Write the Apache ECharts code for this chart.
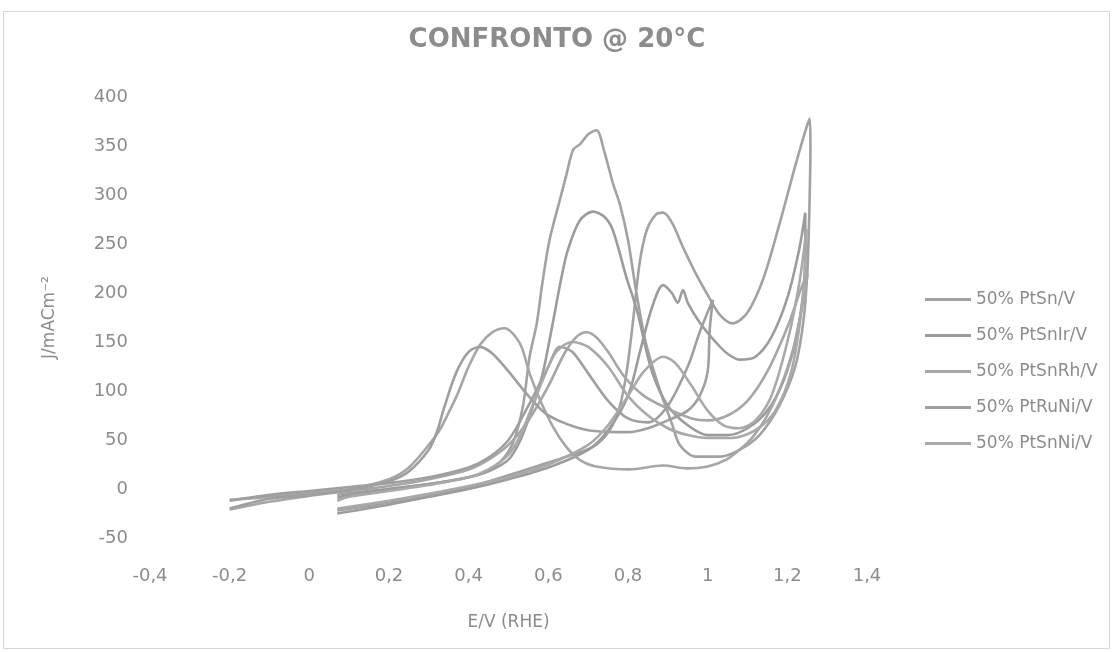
<!DOCTYPE html>
<html>
<head>
<meta charset="utf-8">
<script src="https://cdn.jsdelivr.net/npm/echarts@6/dist/echarts.min.js"></script>
<style>
  html, body { margin: 0; padding: 0; background: #ffffff; }
  #chart { width: 1114px; height: 652px; }
</style>
</head>
<body>
<div id="chart"></div>
<script>
// Cyclic voltammograms at 20 °C: each series is one closed scan, [E (V vs RHE), J (mA cm^-2)]
const seriesNames = ['50% PtSn/V', '50% PtSnIr/V', '50% PtSnRh/V', '50% PtRuNi/V', '50% PtSnNi/V'];

const ptSn = [
  [0.07,-22],[0.2,-14],[0.3,-7],[0.4,2],[0.5,14],[0.6,27],[0.645,33],[0.712,43],[0.754,60],[0.779,84],
  [0.796,118],[0.812,169],[0.829,230],[0.847,264],[0.87,280],[0.888,282],[0.91,272],[0.94,245],[0.97,220],
  [1.0,198],[1.03,178],[1.063,169],[1.1,180],[1.14,215],[1.18,270],[1.22,330],[1.245,365],[1.256,378],
  [1.258,350],[1.255,280],[1.25,220],[1.24,170],[1.22,125],[1.18,85],[1.13,55],[1.08,40],[1.03,33],
  [0.97,33],[0.93,45],[0.91,67],[0.88,101],[0.845,149],[0.82,203],[0.8,254],[0.78,290],[0.762,312],
  [0.74,345],[0.721,366],[0.7,362],[0.68,352],[0.662,346],[0.645,320],[0.629,295],[0.603,254],[0.585,210],
  [0.571,169],[0.553,135],[0.536,84],[0.511,47],[0.48,28],[0.44,17],[0.4,12],[0.3,5],[0.2,0],[0.1,-4],[0.07,-6]
];

const ptSnIr = [
  [0.07,-25],[0.2,-16],[0.3,-8],[0.4,0],[0.5,10],[0.6,22],[0.7,40],[0.75,60],[0.8,95],[0.83,140],[0.86,185],
  [0.888,208],[0.91,200],[0.925,190],[0.938,203],[0.95,190],[0.98,170],[1.02,150],[1.05,138],[1.08,132],
  [1.12,135],[1.16,155],[1.2,195],[1.23,245],[1.245,282],
  [1.245,250],[1.24,200],[1.22,150],[1.19,110],[1.15,80],[1.1,62],[1.05,55],[1.0,55],[0.95,65],[0.9,85],
  [0.86,120],[0.822,183],[0.796,216],[0.762,264],[0.74,278],[0.712,283],[0.679,274],[0.649,244],[0.633,216],
  [0.611,169],[0.586,118],[0.561,84],[0.53,50],[0.5,30],[0.45,18],[0.4,12],[0.3,5],[0.2,0],[0.1,-6],[0.07,-9]
];

const ptSnRh = [
  [-0.2,-21],[-0.1,-13],[0,-7],[0.1,-2],[0.2,3],[0.3,10],[0.4,20],[0.45,30],[0.5,45],[0.55,70],[0.6,105],
  [0.64,138],[0.67,155],[0.696,160],[0.72,155],[0.75,140],[0.79,115],[0.84,95],[0.9,82],[0.96,72],[1.0,70],
  [1.05,75],[1.1,90],[1.15,120],[1.2,165],[1.235,205],[1.251,220],
  [1.239,190],[1.214,142],[1.18,101],[1.147,73],[1.113,53],[1.08,40],[1.047,30],[1.0,23],[0.95,21],[0.888,24],
  [0.804,20],[0.72,23],[0.678,30],[0.645,43],[0.611,64],[0.579,91],[0.553,118],[0.528,149],[0.49,164],
  [0.46,160],[0.43,148],[0.4,125],[0.37,95],[0.34,70],[0.327,60],[0.3,45],[0.25,22],[0.2,10],[0.1,0],
  [0,-4],[-0.1,-8],[-0.2,-11]
];

const ptRuNi = [
  [-0.2,-12],[-0.1,-6],[0,-2],[0.1,2],[0.2,6],[0.3,12],[0.4,22],[0.45,32],[0.5,50],[0.55,85],[0.6,125],
  [0.629,145],[0.66,140],[0.7,118],[0.75,90],[0.8,72],[0.85,68],[0.9,85],[0.95,125],[0.98,160],[1.013,193],
  [1.005,162],[1.0,120],[0.98,95],[0.95,80],[0.9,70],[0.85,62],[0.8,58],[0.7,60],[0.6,75],[0.55,95],
  [0.5,120],[0.46,138],[0.428,145],[0.4,140],[0.37,120],[0.34,85],[0.32,58],[0.3,40],[0.25,18],[0.2,8],
  [0.1,-1],[0,-6],[-0.1,-10],[-0.2,-20]
];

const ptSnNi = [
  [0.07,-20],[0.2,-12],[0.3,-5],[0.4,3],[0.5,12],[0.6,25],[0.7,45],[0.75,65],[0.8,95],[0.84,120],[0.888,135],
  [0.92,128],[0.96,105],[1.0,80],[1.04,65],[1.08,62],[1.12,70],[1.16,95],[1.2,150],[1.23,210],[1.248,265],
  [1.245,230],[1.235,180],[1.21,120],[1.17,80],[1.12,60],[1.06,52],[1.0,52],[0.95,55],[0.9,62],[0.85,75],
  [0.8,95],[0.75,125],[0.7,145],[0.66,150],[0.62,140],[0.59,115],[0.56,85],[0.53,55],[0.5,35],[0.45,20],
  [0.4,12],[0.3,4],[0.2,-2],[0.1,-8],[0.07,-12]
];

const seriesData = [ptSn, ptSnIr, ptSnRh, ptRuNi, ptSnNi];
const seriesColors = ['#a2a2a2', '#9c9c9c', '#a6a6a6', '#9f9f9f', '#a9a9a9'];

const FONT = 'DejaVu Sans';
const chart = echarts.init(document.getElementById('chart'), null, { renderer: 'canvas' });

const commaLabel = v => String(Math.round(v * 10) / 10).replace('.', ',');

chart.setOption({
  backgroundColor: '#ffffff',
  animation: false,
  title: {
    text: 'CONFRONTO @ 20°C',
    left: 'center',
    top: 22,
    textStyle: { fontFamily: FONT, fontSize: 26, fontWeight: 'bold', color: '#8c8c8c' }
  },
  legend: {
    orient: 'vertical',
    left: 920,
    top: 286,
    icon: 'rect',
    itemWidth: 46,
    itemHeight: 3,
    itemGap: 19,
    data: seriesNames,
    textStyle: { fontFamily: FONT, fontSize: 17, color: '#8c8c8c' }
  },
  grid: { left: 150, right: 247, top: 97, bottom: 114 },
  xAxis: {
    type: 'value',
    min: -0.4,
    max: 1.4,
    interval: 0.2,
    name: 'E/V (RHE)',
    nameLocation: 'middle',
    nameGap: 76,
    nameTextStyle: { fontFamily: FONT, fontSize: 17, color: '#8c8c8c' },
    axisLine: { show: false },
    axisTick: { show: false },
    splitLine: { show: false },
    axisLabel: { margin: 29, fontFamily: FONT, fontSize: 18, color: '#8c8c8c', formatter: commaLabel }
  },
  yAxis: {
    type: 'value',
    min: -50,
    max: 400,
    interval: 50,
    name: 'J/mACm⁻²',
    nameLocation: 'middle',
    nameGap: 92,
    nameTextStyle: { fontFamily: FONT, fontSize: 17, color: '#8c8c8c' },
    axisLine: { show: false },
    axisTick: { show: false },
    splitLine: { show: false },
    axisLabel: { margin: 22, fontFamily: FONT, fontSize: 18, color: '#8c8c8c' }
  },
  graphic: [{
    type: 'rect',
    shape: { x: 3.5, y: 11.5, width: 1106, height: 637 },
    style: { fill: 'none', stroke: '#d6d6d6', lineWidth: 1 },
    silent: true
  }],
  series: seriesNames.map((name, i) => ({
    name,
    type: 'line',
    data: seriesData[i],
    showSymbol: false,
    symbol: 'none',
    smooth: 0.3,
    lineStyle: { width: 2.6, color: seriesColors[i] },
    itemStyle: { color: seriesColors[i] }
  }))
});
</script>
</body>
</html>
